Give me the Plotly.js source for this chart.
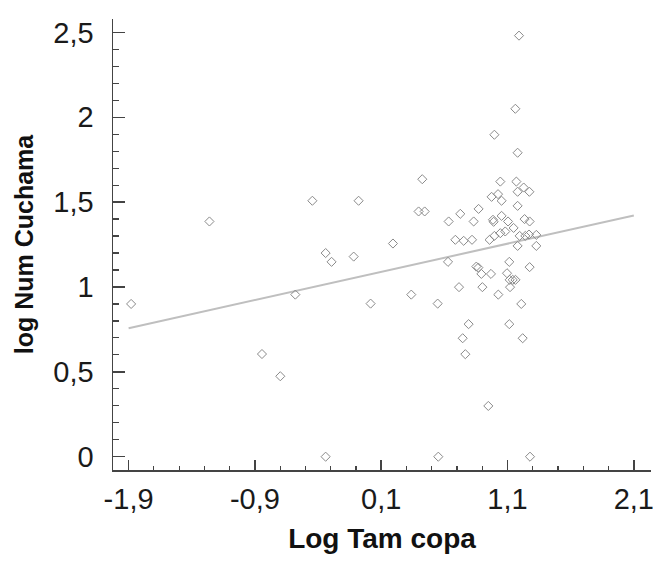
<!DOCTYPE html>
<html>
<head>
<meta charset="utf-8">
<script src="https://cdn.plot.ly/plotly-3.0.1.min.js"></script>
<style>html,body{margin:0;padding:0;background:#fff;}#chart{width:653px;height:571px;}</style>
</head>
<body>
<div id="chart"></div>
<script>
// Data
var logTamCopa = [-1.88,-1.26,-0.445,-0.079,-0.34,-0.293,-0.118,-0.58,0.016,-0.844,-0.699,-0.34,
  0.396,0.444,0.425,0.193,0.338,0.547,1.191,1.162,0.996,1.18,1.043,1.17,1.228,1.273,1.18,1.025,
  0.974,1.053,1.18,0.726,0.871,0.634,0.832,0.985,0.99,1.053,1.104,1.148,1.235,1.275,0.687,0.753,
  0.819,0.958,0.996,1.043,1.082,1.196,1.241,1.27,1.328,1.18,1.328,0.629,0.853,0.869,0.893,0.969,
  1.114,1.096,1.117,1.141,1.163,1.12,1.275,0.716,0.901,1.027,1.209,0.792,1.114,0.745,1.22,0.766,
  0.948,0.552,1.278];
var logNumCuchama = [0.90,1.386,1.508,1.508,1.20,1.148,1.179,0.955,0.902,0.605,0.474,0,
  1.445,1.445,1.635,1.256,0.955,0.902,2.481,2.05,1.897,1.791,1.621,1.621,1.586,1.561,1.561,1.547,
  1.531,1.508,1.478,1.431,1.46,1.386,1.386,1.396,1.384,1.419,1.386,1.348,1.40,1.386,1.278,1.272,
  1.278,1.278,1.301,1.317,1.327,1.301,1.301,1.309,1.307,1.242,1.242,1.148,1.12,1.114,1.077,1.077,
  1.148,1.081,1.042,1.042,1.042,0.999,1.117,0.999,0.999,0.955,0.90,0.781,0.781,0.698,0.698,0.604,
  0.299,0,0];
var fitX = [-1.9, 2.1];
var fitY = [0.757, 1.421];
var xTickVals = [-1.9, -0.9, 0.1, 1.1, 2.1];
var xTickLabels = ["-1,9", "-0,9", "0,1", "1,1", "2,1"];
var yTickVals = [0, 0.5, 1, 1.5, 2, 2.5];
var yTickLabels = ["0", "0,5", "1", "1,5", "2", "2,5"];

var traces = [
  {x: fitX, y: fitY, type: 'scatter', mode: 'lines',
   line: {color: '#bfbfbf', width: 2}, hoverinfo: 'skip'},
  {x: logTamCopa, y: logNumCuchama, type: 'scatter', mode: 'markers',
   marker: {symbol: 'diamond-open', size: 7, color: '#8a8a8a', line: {width: 1, color: '#8a8a8a'}}}
];
var tickFont = {family: 'Liberation Sans Narrow, Arial Narrow, Liberation Sans, sans-serif', size: 29, color: '#1a1a1a'};
var layout = {
  width: 653, height: 571,
  margin: {l: 113, r: 2, t: 19, b: 101},
  paper_bgcolor: '#fff', plot_bgcolor: '#fff',
  showlegend: false,
  xaxis: {
    range: [-2.0235, 2.236], showgrid: false, zeroline: false,
    showline: true, linecolor: '#444', linewidth: 1.5,
    tickmode: 'array', tickvals: xTickVals, ticktext: xTickLabels,
    ticks: 'inside', ticklen: 10, tickwidth: 1.5, tickcolor: '#444',
    minor: {tick0: -1.9, dtick: 0.2, ticks: 'inside', ticklen: 4, tickwidth: 1.2, tickcolor: '#444', showgrid: false},
    tickfont: tickFont, ticklabelstandoff: 3, ticklabeloverflow: 'allow',
    title: {text: 'Log Tam copa', font: {family: 'Liberation Sans, Arial, sans-serif', size: 28, weight: 'bold', color: '#111'}, standoff: 14}
  },
  yaxis: {
    range: [-0.0784, 2.579], showgrid: false, zeroline: false,
    showline: true, linecolor: '#444', linewidth: 1.5,
    tickmode: 'array', tickvals: yTickVals, ticktext: yTickLabels,
    ticks: 'inside', ticklen: 12, tickwidth: 1.5, tickcolor: '#444',
    minor: {tick0: 0, dtick: 0.1, ticks: 'inside', ticklen: 6, tickwidth: 1.2, tickcolor: '#444', showgrid: false},
    tickfont: tickFont, ticklabelstandoff: 12, ticklabeloverflow: 'allow',
    title: {text: 'log Num Cuchama', font: {family: 'Liberation Sans, Arial, sans-serif', size: 25, weight: 'bold', color: '#111'}, standoff: 12}
  }
};
Plotly.newPlot('chart', traces, layout, {displayModeBar: false, staticPlot: true});
</script>
</body>
</html>
